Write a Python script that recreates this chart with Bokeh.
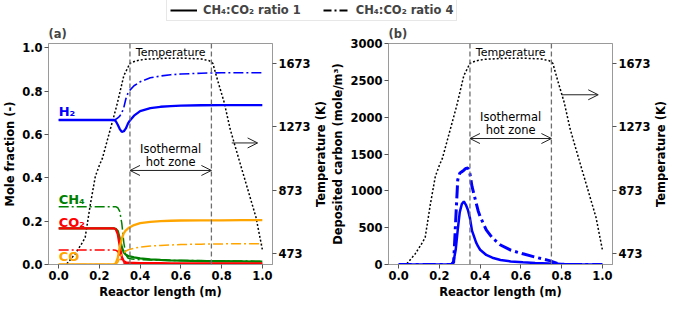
import math
from bokeh.plotting import figure
from bokeh.models import (Range1d, LinearAxis, FixedTicker, NumeralTickFormatter,
                          Span, Arrow, OpenHead, Label, Legend, LegendItem)
from bokeh.layouts import column, row
from bokeh.embed import file_html
from bokeh.resources import INLINE

# ---------------- data ----------------
x_mole = [0.0, 0.05, 0.10, 0.15, 0.20, 0.25, 0.27, 0.28, 0.29, 0.30, 0.31, 0.32, 0.33,
          0.34, 0.35, 0.37, 0.40, 0.45, 0.50, 0.55, 0.60, 0.70, 0.80, 0.90, 1.0]
h2_r1 = [0.667, 0.667, 0.667, 0.667, 0.667, 0.667, 0.667, 0.662, 0.645, 0.625, 0.612, 0.615, 0.628,
         0.650, 0.665, 0.687, 0.708, 0.722, 0.728, 0.731, 0.733, 0.735, 0.736, 0.736, 0.736]
h2_r4 = [0.667, 0.667, 0.667, 0.667, 0.667, 0.667, 0.667, 0.670, 0.676, 0.685, 0.700, 0.725, 0.765,
         0.790, 0.805, 0.825, 0.843, 0.862, 0.870, 0.876, 0.879, 0.883, 0.885, 0.885, 0.885]
ch4_r1 = [0.167, 0.167, 0.167, 0.167, 0.167, 0.167, 0.167, 0.165, 0.155, 0.120, 0.080, 0.055, 0.045,
          0.040, 0.037, 0.033, 0.028, 0.024, 0.021, 0.019, 0.018, 0.016, 0.015, 0.014, 0.013]
ch4_r4 = [0.267, 0.267, 0.267, 0.267, 0.267, 0.267, 0.267, 0.267, 0.262, 0.245, 0.190, 0.100, 0.045,
          0.030, 0.026, 0.024, 0.022, 0.021, 0.020, 0.019, 0.019, 0.018, 0.017, 0.016, 0.015]
co2_r1 = [0.167, 0.167, 0.167, 0.167, 0.167, 0.167, 0.167, 0.163, 0.140, 0.085, 0.035, 0.015, 0.010,
          0.008, 0.007, 0.007, 0.006, 0.006, 0.006, 0.005, 0.005, 0.005, 0.005, 0.005, 0.005]
co2_r4 = [0.067, 0.067, 0.067, 0.067, 0.067, 0.067, 0.067, 0.066, 0.060, 0.040, 0.015, 0.007, 0.004,
          0.004, 0.003, 0.003, 0.003, 0.003, 0.003, 0.003, 0.003, 0.003, 0.003, 0.003, 0.003]
co_r1 = [0.0, 0.0, 0.0, 0.0, 0.0, 0.0, 0.0, 0.005, 0.030, 0.080, 0.120, 0.145, 0.158,
         0.166, 0.172, 0.182, 0.191, 0.197, 0.200, 0.202, 0.203, 0.204, 0.204, 0.205, 0.205]
co_r4 = [0.0, 0.0, 0.0, 0.0, 0.0, 0.0, 0.0, 0.0, 0.010, 0.030, 0.045, 0.055, 0.062,
         0.067, 0.070, 0.075, 0.080, 0.085, 0.088, 0.090, 0.092, 0.094, 0.095, 0.096, 0.096]

x_temp = [0.04, 0.08, 0.11, 0.13, 0.155, 0.18, 0.20, 0.215, 0.25, 0.285, 0.32, 0.35, 0.38, 0.42,
          0.50, 0.60, 0.70, 0.74, 0.757, 0.78, 0.813, 0.842, 0.898, 0.969, 1.0]
temp = [410, 470, 530, 575, 780, 960, 1030, 1075, 1240, 1405, 1595, 1672, 1688, 1697,
        1703, 1705, 1700, 1688, 1672, 1567, 1425, 1258, 1011, 702, 500]

x_carbon = [0.0, 0.25, 0.26, 0.27, 0.28, 0.29, 0.30, 0.31, 0.32, 0.33, 0.34, 0.35, 0.36, 0.38,
            0.39, 0.40, 0.43, 0.46, 0.50, 0.55, 0.61, 0.67, 0.74, 0.78, 0.80, 0.85, 0.90, 1.0]
carbon_r1 = [0, 0, 3, 50, 200, 470, 710, 820, 855, 810, 740, 630, 460, 300,
             245, 200, 130, 92, 62, 42, 30, 22, 14, 10, 8, 5, 3, 1]
carbon_r4 = [0, 0, 0, 30, 600, 1150, 1240, 1260, 1280, 1305, 1310, 1230, 1060, 840,
             730, 650, 470, 360, 265, 195, 145, 100, 53, 15, 3, 0, 0, 0]

x_ticks = [0.0, 0.2, 0.4, 0.6, 0.8, 1.0]
mole_ticks = [0.0, 0.2, 0.4, 0.6, 0.8, 1.0]
carbon_ticks = [0, 500, 1000, 1500, 2000, 2500, 3000]
temp_ticks = [473, 873, 1273, 1673]
zone_start, zone_end = 0.35, 0.75

# ---------------- style ----------------
FONT = "DejaVu Sans"
BLUE, GREEN, RED, ORANGE = "#0000ff", "#008000", "#ff0000", "#ffa500"
DASHDOT = "10 3 2 3"
FW, FH = 224, 221
TOP, BOTTOM = 15, 36
T_LO, T_HI = 405, 1797


def style_axis(ax):
    ax.major_label_text_font = FONT
    ax.major_label_text_font_style = "bold"
    ax.major_label_text_font_size = "11.5px"
    ax.major_label_text_color = "black"
    ax.axis_label_text_font = FONT
    ax.axis_label_text_font_style = "bold"
    ax.axis_label_text_font_size = "11.5px"
    ax.axis_label_text_color = "black"
    ax.axis_line_color = "#9a9a9a"
    ax.major_tick_line_color = "#555555"
    ax.major_tick_out = 4
    ax.major_tick_in = 0
    ax.minor_tick_line_color = None
    ax.major_label_standoff = 2
    ax.axis_label_standoff = 2


def make_panel(tag, y_range, y_ticks, y_label, y_fmt):
    p = figure(frame_width=FW, frame_height=FH, x_range=Range1d(-0.05, 1.05),
               y_range=y_range, output_backend="svg", toolbar_location=None,
               title=tag, min_border_left=10, min_border_right=4, min_border_top=TOP,
               min_border_bottom=BOTTOM)
    p.title.text_font = FONT
    p.title.text_font_style = "bold"
    p.title.text_font_size = "11.5px"
    p.title.align = "left"
    p.title.standoff = 6
    p.xgrid.visible = False
    p.ygrid.visible = False
    p.outline_line_color = "#9a9a9a"
    p.background_fill_color = "white"
    p.border_fill_color = "white"
    p.extra_y_ranges = {"T": Range1d(T_LO, T_HI)}

    xa = p.xaxis[0]
    style_axis(xa)
    xa.ticker = FixedTicker(ticks=x_ticks)
    xa.formatter = NumeralTickFormatter(format="0.0")
    xa.axis_label = "Reactor length (m)"

    ya = p.yaxis[0]
    style_axis(ya)
    ya.ticker = FixedTicker(ticks=y_ticks)
    ya.formatter = NumeralTickFormatter(format=y_fmt)
    ya.axis_label = y_label

    ra = LinearAxis(y_range_name="T", ticker=FixedTicker(ticks=temp_ticks))
    style_axis(ra)
    p.add_layout(ra, "right")

    for loc in (zone_start, zone_end):
        p.add_layout(Span(location=loc, dimension="height", line_color="#6e6e6e",
                          line_dash="5 3", line_width=1.3))
    p.line(x_temp, temp, y_range_name="T", line_color="black", line_width=1.5,
           line_dash="2 2")
    return p


def right_title(text):
    # narrow strip carrying the right-hand axis title, reading bottom-to-top
    s = figure(width=15, frame_height=FH, x_range=Range1d(0, 1), y_range=Range1d(0, 1),
               output_backend="svg", toolbar_location=None, x_axis_type=None,
               y_axis_type=None, min_border_left=0, min_border_right=0,
               min_border_top=TOP, min_border_bottom=BOTTOM)
    s.outline_line_color = None
    s.xgrid.visible = False
    s.ygrid.visible = False
    s.add_layout(Label(x=0.5, y=0.5, text=text, angle=math.pi / 2, text_font=FONT,
                       text_font_style="bold", text_font_size="11.5px", text_color="black",
                       text_align="center", text_baseline="middle"))
    return s


def note(p, x, y, text, size="11.5px", color="black", bold=False, align="center"):
    p.add_layout(Label(x=x, y=y, text=text, text_font=FONT, text_font_size=size,
                       text_color=color, text_align=align, text_baseline="middle",
                       text_font_style="bold" if bold else "normal"))


def arrow(p, x0, x1, y, both):
    p.add_layout(Arrow(end=OpenHead(size=10, line_width=1, line_color="#222222"),
                       start=OpenHead(size=10, line_width=1, line_color="#222222") if both else None,
                       x_start=x0, y_start=y, x_end=x1, y_end=y,
                       line_width=1, line_color="#222222"))


# ---------------- panel (a) ----------------
pa = make_panel("(a)", Range1d(0, 1.02), mole_ticks, "Mole fraction (-)", "0.0")
pa.line(x_mole, h2_r1, line_color=BLUE, line_width=2.3)
pa.line(x_mole, h2_r4, line_color=BLUE, line_width=1.6, line_dash=DASHDOT)
pa.line(x_mole, ch4_r1, line_color=GREEN, line_width=2.3)
pa.line(x_mole, ch4_r4, line_color=GREEN, line_width=1.5, line_dash=DASHDOT)
pa.line(x_mole, co2_r1, line_color=RED, line_width=2.3)
pa.line(x_mole, co2_r4, line_color=RED, line_width=1.5, line_dash=DASHDOT)
pa.line(x_mole, co_r1, line_color=ORANGE, line_width=2.3)
pa.line(x_mole, co_r4, line_color=ORANGE, line_width=1.5, line_dash=DASHDOT)

note(pa, 0.0, 0.706, "H₂", "13px", BLUE, True, "left")
note(pa, 0.0, 0.300, "CH₄", "13px", GREEN, True, "left")
note(pa, 0.0, 0.196, "CO₂", "13px", RED, True, "left")
note(pa, 0.0, 0.036, "CO", "13px", ORANGE, True, "left")
note(pa, 0.55, 0.979, "Temperature", "11px")
note(pa, 0.55, 0.534, "Isothermal", "11.5px")
note(pa, 0.55, 0.475, "hot zone", "11.5px")
arrow(pa, zone_start, zone_end, 0.434, True)
arrow(pa, 0.85, 0.977, 0.561, False)

# ---------------- panel (b) ----------------
pb = make_panel("(b)", Range1d(0, 3000), carbon_ticks, "Deposited carbon (mole/m³)", "0")
pb.line(x_carbon, carbon_r1, line_color=BLUE, line_width=2.5)
pb.line(x_carbon, carbon_r4, line_color=BLUE, line_width=3, line_dash="13 4 3 4")
note(pb, 0.55, 2875, "Temperature", "11px")
note(pb, 0.55, 2000, "Isothermal", "11.5px")
note(pb, 0.55, 1830, "hot zone", "11.5px")
arrow(pb, zone_start, zone_end, 1710, True)
arrow(pb, 0.80, 0.98, 2304, False)

panels = row(pa, right_title("Temperature (K)"), pb, right_title("Temperature (K)"))

# ---------------- legend strip ----------------
total_w = 657
lg = figure(width=total_w, height=21, x_range=Range1d(0, 1), y_range=Range1d(0, 1),
            output_backend="svg", toolbar_location=None, x_axis_type=None,
            y_axis_type=None, min_border=0)
lg.outline_line_color = None
lg.xgrid.visible = False
lg.ygrid.visible = False
# renderers sit outside the visible range: only their legend samples show
r1 = lg.line([5, 6], [5, 6], line_color="black", line_width=2)
r4 = lg.line([5, 6], [5, 6], line_color="black", line_width=2, line_dash="8 3 2 3")
leg = Legend(items=[LegendItem(label="CH₄:CO₂ ratio 1", renderers=[r1]),
                    LegendItem(label="CH₄:CO₂ ratio 4", renderers=[r4])],
             orientation="horizontal", location=(166, 0),
             label_text_font=FONT, label_text_font_style="bold",
             label_text_font_size="11.5px", glyph_width=27, glyph_height=14,
             label_height=14, label_standoff=6, spacing=22, padding=3, margin=0,
             border_line_color="#d0d0d0", border_line_width=1)
lg.add_layout(leg, "center")

layout = column(lg, panels)
open("out.html", "w").write(file_html(layout, INLINE))
